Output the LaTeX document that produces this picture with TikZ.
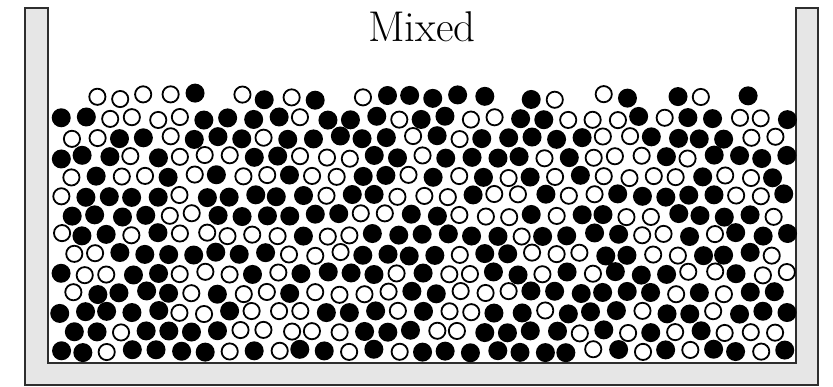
\documentclass[tikz,border=0pt]{standalone}
\usepackage{tikz}
\definecolor{WallGrey}{HTML}{E6E6E6}
\definecolor{WallEdge}{HTML}{2E2E2E}

\begin{document}
\begin{tikzpicture}[
  x=1pt, y=-1pt,
  wall/.style={fill=WallGrey, draw=WallEdge, line width=1.6pt, line join=miter},
  whitebead/.style={draw=black, fill=white, line width=1.8pt},
  blackbead/.style={fill=black},
  label/.style={font=\fontsize{43}{43}\selectfont, inner sep=0pt}
]
\useasboundingbox (0,0) rectangle (833,386);
% container
\draw[wall] (25,8) -- (25,385) -- (818,385) -- (818,8) -- (796,8)
  -- (796,363) -- (48,363) -- (48,8) -- cycle;
\node[label] (title) at (422,27) {Mixed};
% beads, loose hex packing with jitter
\pgfmathsetseed{90311}
\foreach \row in {0,...,13}{
  \pgfmathtruncatemacro{\last}{30-mod(\row,2)}
  \foreach \col in {0,...,\last}{
    \pgfmathsetmacro{\cx}{60 + 24.2*\col + 12.1*mod(\row,2) + 2.4*rand}
    \pgfmathsetmacro{\cy}{351 - 19.4*\row + 2.0*rand - (\row==13)*4*rnd}
    \pgfmathsetmacro{\pick}{rnd}
    \pgfmathsetmacro{\keep}{(\row<13) || (rnd>0.2)}
    \ifdim\keep pt>0.5pt
      \ifdim\pick pt<0.55pt
        \fill[blackbead] (\cx,\cy) circle[radius=9.5pt];
      \else
        \draw[whitebead] (\cx,\cy) circle[radius=8.1pt];
      \fi
    \fi
  }
}
\end{tikzpicture}
\end{document}
